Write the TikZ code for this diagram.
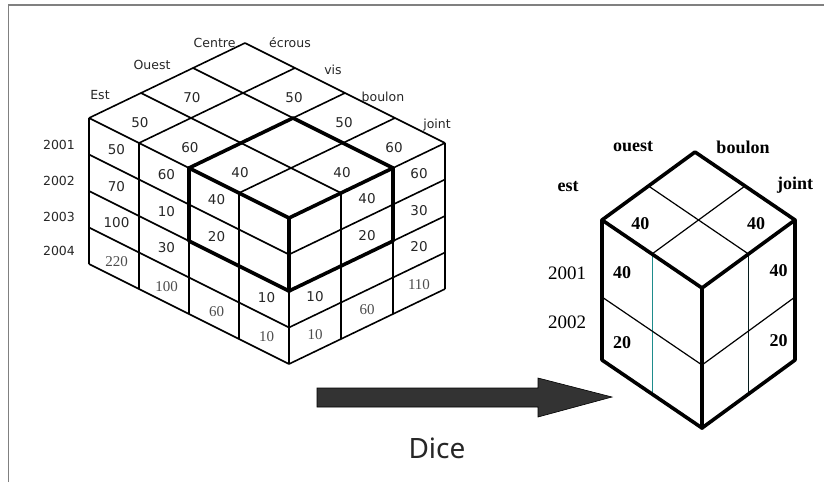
\documentclass[tikz,border=0pt]{standalone}
\usepackage{fontspec}
\newfontfamily\cubefont{DejaVu Sans}
\newfontfamily\serfont{Liberation Serif}
\newfontfamily\dicefont{Noto Sans}
\definecolor{arrowgray}{HTML}{333333}
\definecolor{thinteal}{HTML}{1E8C8C}

\begin{document}
\begin{tikzpicture}[x=1pt,y=-1pt,
  cellval/.style={font=\cubefont\fontsize{13.5}{15}\selectfont,text=black!85},
  oldval/.style={font=\serfont\fontsize{15}{17}\selectfont,text=black!70},
  axislab/.style={font=\cubefont\fontsize{12.5}{14}\selectfont,text=black!85},
  diceval/.style={font=\serfont\bfseries\fontsize{18}{20}\selectfont},
  dicelab/.style={font=\serfont\fontsize{19}{21}\selectfont},
  cubeline/.style={line width=1.6pt},
  diceline/.style={line width=3.6pt,line join=round,line cap=round}]
\useasboundingbox (0,0) rectangle (824,482);
% frame
\draw[gray,line width=1.5pt] (8.5,482) -- (8.5,5) -- (824,5);

% big cube
\begin{scope}[shift={(245,43)},x={(50pt,-25pt)},y={(0pt,-36.5pt)},z={(-52pt,-25pt)}]
\foreach \b in {0,...,3} \draw[cubeline] (0,0,\b) -- (4,0,\b);
\foreach \a in {0,...,4} \draw[cubeline] (\a,0,0) -- (\a,0,3);
\foreach \a in {0,...,4} \draw[cubeline] (\a,0,3) -- (\a,4,3);
\foreach \r in {1,...,4} \draw[cubeline] (0,\r,3) -- (4,\r,3);
\foreach \b in {0,...,2} \draw[cubeline] (4,0,\b) -- (4,4,\b);
\foreach \r in {1,...,4} \draw[cubeline] (4,\r,0) -- (4,\r,3);
% the diced block
\draw[diceline] (2,0,1) -- (4,0,1) -- (4,0,3) -- (2,0,3) -- cycle;
\draw[diceline] (2,0,3) -- (2,2,3) -- (4,2,3) -- (4,2,1) -- (4,0,1);
\draw[diceline] (4,0,3) -- (4,2,3);
% values
\foreach \i/\j/\v in {0/1/70,0/2/50,1/0/50,1/2/60,2/0/50,2/2/40,3/0/60,3/1/40}
  \node[cellval] (top\i\j) at (\i+.5,0.12,\j+.5) {\v};
\foreach \i/\r/\v in {0/0/50,0/1/70,0/2/100,1/0/60,1/1/10,1/2/30,2/0/40,2/1/20,3/2/10}
  \node[cellval] (left\i\r) at (\i+.55,\r+.5,3) {\v};
\foreach \i/\v in {0/220,1/100,2/60,3/10}
  \node[oldval] (left\i3) at (\i+.55,3.55,3) {\v};
\foreach \k/\r/\v in {0/2/10,1/0/40,1/1/20,2/0/60,2/1/30,2/2/20}
  \node[cellval] (right\k\r) at (4,\r+.5,2.5-\k) {\v};
\foreach \k/\v in {0/10,1/60,2/110}
  \node[oldval] (right\k3) at (4,3.55,2.5-\k) {\v};
\end{scope}

% axis labels
\node[axislab,anchor=east] (centre) at (239,43) {Centre};
\node[axislab] (ecrous) at (290,43) {écrous};
\node[axislab] (ouest) at (152,65) {Ouest};
\node[axislab] (vis) at (333,70) {vis};
\node[axislab] (est) at (100,95) {Est};
\node[axislab] (boulon) at (383,97) {boulon};
\node[axislab] (joint) at (437,125) {joint};
\foreach \n/\y in {1/145,2/181,3/217,4/251}
  \node[axislab] (year\n) at (59,\y) {200\n};

% arrow
\filldraw[fill=arrowgray,draw=black,line width=.6pt]
  (317,388) -- (538,388) -- (538,378) -- (612,397) -- (538,417) -- (538,407) -- (317,407) -- cycle;
\node[font=\dicefont\fontsize{28}{30}\selectfont,text=black!85] (dice) at (437,448) {Dice};

% diced cube
\begin{scope}[shift={(695,152)},x={(50pt,-34pt)},y={(0pt,-70pt)},z={(-46.5pt,-34pt)}]
\draw[line width=1.2pt] (1,0,0) -- (1,0,2);
\draw[line width=1.2pt] (0,0,1) -- (2,0,1);
\draw[thinteal,line width=.9pt] (1,0,2) -- (1,2,2);
\draw[black!80!thinteal,line width=1.4pt] (2,0,1) -- (2,2,1);
\draw[line width=1.2pt] (0,1.1,2) -- (2,1.1,2) -- (2,1.1,0);
\draw[diceline] (0,0,0) -- (2,0,0) -- (2,2,0) -- (2,2,2) -- (0,2,2) -- (0,0,2) -- cycle;
\draw[diceline] (0,0,2) -- (2,0,2) -- (2,0,0);
\draw[diceline] (2,0,2) -- (2,2,2);
\node[diceval] (dtop0) at (0.35,0.1,1.55) {40};
\node[diceval] (dtop1) at (1.55,0.1,0.35) {40};
\node[diceval] (dleft0) at (0.4,0.55,2) {40};
\node[diceval] (dleft1) at (0.4,1.55,2) {20};
\node[diceval] (dright0) at (2,0.55,0.35) {40};
\node[diceval] (dright1) at (2,1.55,0.35) {20};
\end{scope}
\node[diceval] (douest) at (633,147) {ouest};
\node[diceval] (dboulon) at (743,147) {boulon};
\node[diceval] (dest) at (568,187) {est};
\node[diceval] (djoint) at (795,185) {joint};
\node[dicelab] (dyear1) at (567,273) {2001};
\node[dicelab] (dyear2) at (567,322) {2002};
\end{tikzpicture}
\end{document}
